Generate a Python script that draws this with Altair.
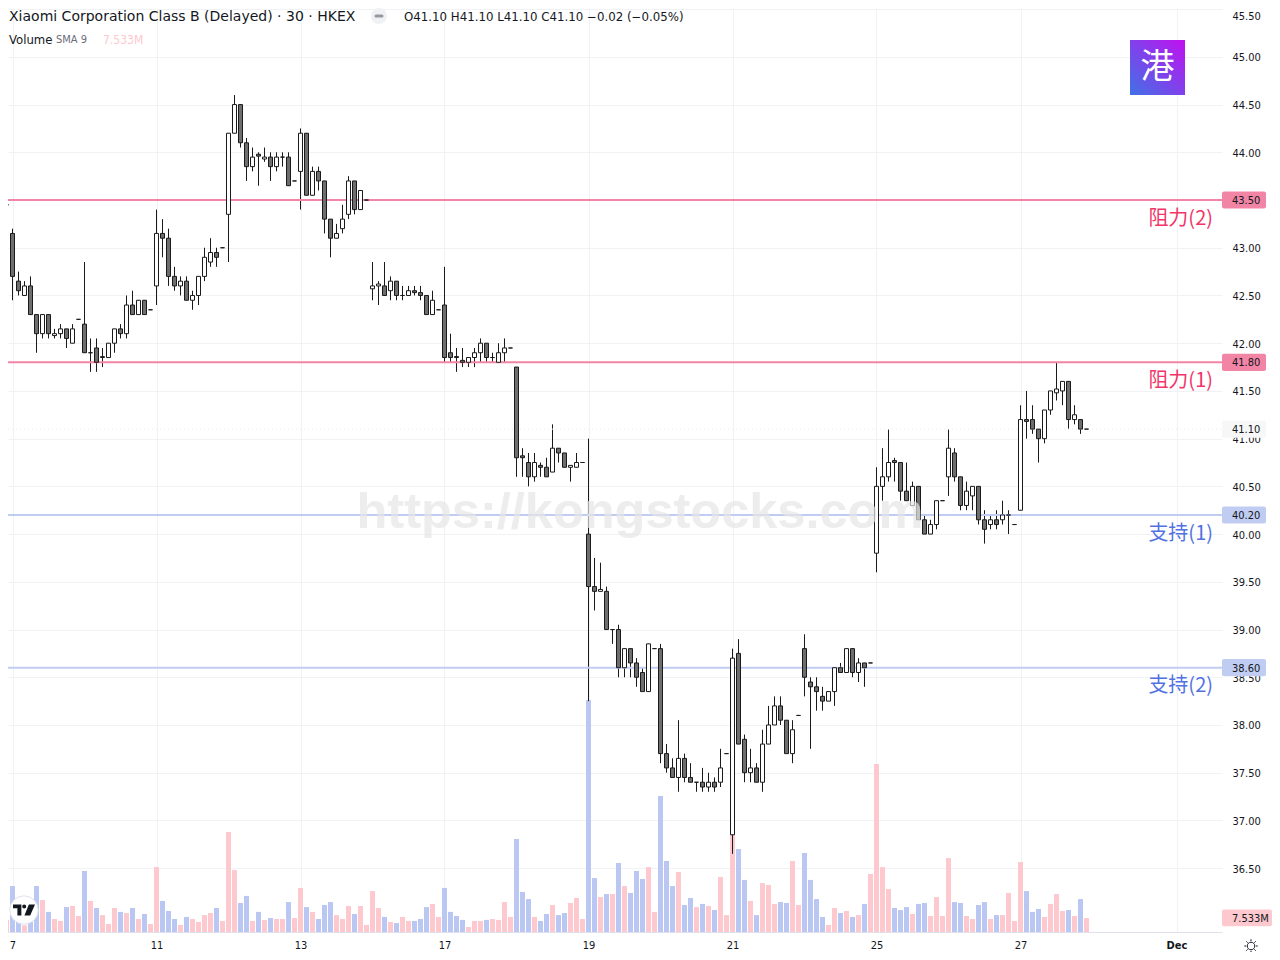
import altair as alt
import pandas as pd

OPEN = [43.45,43.45,43.15,42.65,42.5,42.6,42.3,42.1,42.3,42.08,42.1,42.15,42.0,42.25,42.2,41.9,41.95,41.86,41.85,42.0,42.15,42.1,42.4,42.3,42.45,42.35,42.6,43.15,43.1,42.7,42.6,42.65,42.45,42.5,42.7,42.85,42.95,43.0,43.35,44.2,44.5,44.1,43.85,43.98,43.93,43.95,43.85,43.95,43.95,43.7,43.8,44.2,43.55,43.8,43.7,43.3,43.1,43.2,43.35,43.7,43.4,43.5,42.57,42.6,42.6,42.55,42.65,42.5,42.5,42.55,42.53,42.5,42.3,42.35,42.4,41.9,41.86,41.82,41.8,41.85,41.9,42.0,41.85,41.8,41.9,41.95,41.75,40.82,40.75,40.6,40.72,40.7,40.65,40.9,40.85,40.7,40.7,40.75,40.0,39.45,39.4,39.4,39.0,39.0,38.6,38.8,38.65,38.55,38.35,38.8,38.8,37.7,37.55,37.45,37.65,37.45,37.4,37.4,37.35,37.4,37.4,37.7,36.85,38.75,37.85,37.5,37.55,37.4,37.8,38.0,38.2,38.05,37.7,38.1,38.8,38.45,38.4,38.3,38.25,38.35,38.6,38.55,38.8,38.55,38.65,38.65,39.8,40.5,40.6,40.77,40.75,40.45,40.3,40.5,40.15,40.0,40.1,40.35,40.6,40.85,40.6,40.3,40.4,40.5,40.15,40.1,40.15,40.15,40.2,40.1,40.25,41.2,41.2,41.1,41.0,41.3,41.48,41.5,41.6,41.2,41.2,41.1]
HIGH = [43.6,43.45,43.2,42.75,42.65,42.7,42.3,42.3,42.3,42.15,42.2,42.15,42.2,42.25,42.85,42.05,42.05,41.95,42.0,42.15,42.2,42.5,42.55,42.45,42.45,42.35,43.4,43.3,43.2,42.8,42.7,42.7,42.55,42.7,43.0,43.1,43.0,43.0,44.2,44.6,44.5,44.15,44.05,44.0,44.05,44.0,44.0,44.0,44.0,43.7,44.25,44.2,43.85,43.85,43.7,43.3,43.25,43.45,43.75,43.7,43.6,43.5,42.85,42.65,42.85,42.7,42.65,42.6,42.6,42.6,42.6,42.5,42.55,42.35,42.8,42.1,41.95,41.95,41.85,41.95,42.05,42.0,41.9,42.0,42.05,41.95,41.75,40.9,40.85,40.85,40.75,40.8,41.15,40.9,40.85,40.72,40.85,40.75,41.0,39.75,39.7,39.45,39.0,39.05,38.8,38.8,38.7,38.6,38.85,38.8,38.85,37.8,37.65,38.05,37.7,37.6,37.4,37.55,37.5,37.45,37.75,37.7,38.8,38.9,37.9,37.75,37.6,37.95,38.2,38.3,38.3,38.05,38.05,38.1,38.95,38.5,38.5,38.4,38.35,38.6,38.65,38.8,38.8,38.7,38.65,38.65,40.7,40.9,41.1,40.8,40.75,40.75,40.55,40.5,40.2,40.15,40.35,40.35,41.1,40.9,40.6,40.55,40.5,40.5,40.25,40.2,40.25,40.35,40.25,40.1,41.35,41.5,41.35,41.1,41.3,41.5,41.8,41.6,41.6,41.35,41.2,41.1]
LOW = [43.4,43.45,42.45,42.5,42.5,42.3,41.9,42.05,42.05,42.05,42.05,41.95,42.0,42.25,41.9,41.7,41.7,41.75,41.85,41.9,42.05,42.05,42.3,42.3,42.3,42.35,42.4,42.9,42.6,42.55,42.5,42.45,42.35,42.4,42.65,42.8,42.8,43.0,42.85,44.2,44.05,43.7,43.8,43.65,43.9,43.7,43.8,43.85,43.65,43.7,43.4,43.55,43.55,43.6,43.15,42.9,43.1,43.15,43.3,43.35,43.4,43.5,42.45,42.4,42.5,42.45,42.45,42.45,42.5,42.5,42.45,42.3,42.3,42.35,41.8,41.8,41.7,41.75,41.75,41.75,41.8,41.8,41.8,41.8,41.8,41.95,40.6,40.6,40.5,40.55,40.6,40.6,40.65,40.75,40.7,40.55,40.7,40.75,38.25,39.2,39.4,39.0,38.85,38.5,38.5,38.5,38.4,38.35,38.35,38.8,37.6,37.5,37.45,37.3,37.4,37.4,37.3,37.3,37.3,37.3,37.35,37.7,36.65,37.8,37.4,37.4,37.4,37.3,37.8,38.0,38.0,37.7,37.6,38.1,38.3,37.75,38.15,38.15,38.25,38.2,38.55,38.55,38.5,38.45,38.4,38.65,39.6,40.35,40.55,40.55,40.35,40.35,40.3,40.15,40.0,40.0,40.05,40.35,40.4,40.55,40.25,40.25,40.25,40.1,39.9,40.05,40.05,40.1,40.0,40.1,40.25,41.0,41.05,40.75,40.95,41.25,41.4,41.35,41.1,41.15,41.05,41.1]
CLOSE = [43.4,43.45,42.7,42.55,42.6,42.3,42.1,42.3,42.1,42.1,42.15,42.05,42.15,42.25,41.9,41.9,41.8,41.85,42.0,42.15,42.1,42.4,42.3,42.45,42.3,42.35,43.15,43.1,42.7,42.6,42.65,42.45,42.5,42.7,42.9,42.95,42.9,43.0,44.2,44.5,44.1,43.85,43.95,43.96,43.95,43.85,43.95,43.95,43.65,43.7,44.2,43.55,43.8,43.7,43.3,43.1,43.15,43.3,43.7,43.4,43.6,43.5,42.6,42.62,42.5,42.65,42.5,42.5,42.55,42.53,42.5,42.3,42.45,42.35,41.85,41.85,41.85,41.8,41.85,41.9,42.0,41.85,41.85,41.9,41.95,41.95,40.8,40.8,40.6,40.75,40.7,40.6,40.9,40.85,40.7,40.72,40.75,40.75,39.45,39.4,39.42,39.0,39.0,38.6,38.8,38.65,38.5,38.35,38.85,38.8,37.7,37.55,37.45,37.65,37.45,37.4,37.4,37.35,37.4,37.35,37.55,37.7,38.7,37.8,37.5,37.55,37.4,37.8,38.0,38.2,38.05,37.7,37.95,38.1,38.5,38.4,38.35,38.25,38.35,38.6,38.55,38.8,38.55,38.65,38.6,38.65,40.5,40.6,40.75,40.75,40.45,40.35,40.5,40.15,40.0,40.1,40.35,40.35,40.9,40.6,40.3,40.45,40.5,40.15,40.05,40.15,40.1,40.2,40.2,40.1,41.2,41.18,41.1,41.0,41.3,41.5,41.52,41.6,41.2,41.25,41.1,41.1]
VOLUME_M = [12.9,6.5,24.7,7.2,3.6,5.4,24.7,17.2,10.8,7.0,5.9,13.4,14.0,8.6,32.8,16.7,12.9,9.1,4.3,12.9,10.8,10.2,12.9,7.0,9.7,4.3,34.9,16.7,11.3,7.0,3.8,8.1,7.0,5.4,9.1,10.2,12.9,5.9,53.8,33.3,15.6,19.4,5.9,10.8,6.5,7.5,7.0,7.0,16.1,7.5,23.7,13.4,10.8,7.0,14.5,16.1,9.1,7.0,14.0,9.7,14.0,3.8,22.0,12.9,8.1,5.4,4.8,8.1,5.9,5.9,7.0,13.4,15.1,8.1,23.7,10.8,8.6,6.5,2.7,5.9,5.9,6.5,7.0,6.5,16.1,8.1,50.0,21.5,17.7,8.1,5.9,9.7,14.5,9.1,10.2,15.6,18.3,7.0,124.7,29.0,18.8,20.4,20.4,37.1,24.7,21.0,32.8,28.5,34.9,10.8,73.1,38.2,24.7,32.3,14.5,18.3,13.4,15.1,14.0,11.8,29.6,9.1,52.1,44.6,28.0,16.7,9.1,26.3,25.3,15.1,16.1,15.6,38.2,14.5,42.5,28.0,17.7,8.1,3.8,12.9,10.2,11.3,8.1,9.1,15.1,31.2,90.3,34.9,23.1,12.9,11.8,13.4,9.7,15.1,15.6,8.6,18.8,8.6,39.8,16.1,15.6,8.6,7.0,14.5,16.1,7.0,9.1,9.1,21.0,5.9,37.6,22.0,10.8,12.4,8.1,15.1,20.4,11.3,11.8,8.6,17.7,7.5]
DIRECTION = list("DUDDUDDUDU" "UDUUDUDUUU" "DUDUDUUDDD" "UDUUUUDUUU" "DDUDUDUUDU"
                 "UDUDDDUUUD" "UUUUDUDUUD" "DDUUDDDDUU" "UDUUUUDDDU" "DDUDDUUUDD"
                 "UDUDUDDDUU" "DDDUDDUDUD" "UUUDDUDUUU" "DDUUDDDDUU" "DUDUDUUUUD"
                 "DDUDDUUUUD" "DUUDDUDUUU" "UDDDUUUUDU" "DU")

HLINE_PRICES = [43.5, 41.8, 40.2, 38.6]
HLINE_NAMES = ["阻力(2)", "阻力(1)", "支持(1)", "支持(2)"]
HLINE_KIND = ["r", "r", "s", "s"]
PRICE_TICKS = [36.5,37,37.5,38,38.5,39,39.5,40,40.5,41,41.5,42,42.5,43,43.5,44,44.5,45,45.5]
TIME_POS = [2,26,50,74,98,122,146,170,196]
TIME_LABELS = ["7","11","13","17","19","21","25","27","Dec"]
LAST_PRICE = 41.1
LAST_VOL = 7.533

INK = "#131722"
COND = "DejaVu Sans Condensed"
W, H = 1214, 924

df = pd.DataFrame({"i": range(len(OPEN)), "open": OPEN, "high": HIGH, "low": LOW, "close": CLOSE,
                   "vol": VOLUME_M, "dir": DIRECTION[:len(OPEN)]})
df["body"] = df["dir"].map({"U": "#ffffff", "D": "#6e6e6e"})
df["vcol"] = df["dir"].map({"U": "#fdc9ce", "D": "#b9c7f2"})

xs = alt.Scale(domain=[1.25, 1.25 + W / 6], nice=False, zero=False, padding=0)
ys = alt.Scale(domain=[35.831, 45.512], nice=False, zero=False)
vs = alt.Scale(domain=[0, 496.8], nice=False, zero=False)
one = alt.Data(values=[{"a": 1}])

hl = pd.DataFrame({"p": HLINE_PRICES, "name": HLINE_NAMES, "kind": HLINE_KIND})
hl["line"] = hl["kind"].map({"r": "#f285a5", "s": "#c1ccf2"})
hl["ink"] = hl["kind"].map({"r": "#f23568", "s": "#5272e2"})
hl["top"] = hl["p"] + 0.09
hl["bot"] = hl["p"] - 0.09

XA = alt.Axis(
    values=TIME_POS, grid=True, gridColor="#f0f2f6", gridWidth=1, ticks=False,
    domainColor="#dfe2ea", domainWidth=1, labelPadding=7, labelFontSize=11, labelFont=COND,
    labelColor=INK, labelFlush=False, labelOverlap=False, title=None,
    labelFontWeight={"condition": {"test": "datum.value==196", "value": "bold"}, "value": "normal"},
    labelExpr="[" + ",".join(f"'{t}'" for t in TIME_LABELS) + "][indexof([" +
              ",".join(str(t) for t in TIME_POS) + "],datum.value)]")
YA = alt.Axis(
    orient="right", values=PRICE_TICKS, format=".2f", grid=True, gridColor="#f0f2f6", gridWidth=1,
    ticks=False, domain=False, labelPadding=10, labelFontSize=11, labelFont=COND, labelColor=INK,
    labelFlush=False, labelOverlap=False, title=None, labelOffset=1,
    labelBaseline={"condition": {"test": "datum.value==45.5", "value": "top"}, "value": "middle"})
X = alt.X("i:Q", scale=xs, axis=XA, title=None)


def py(field):
    return alt.Y(field, scale=ys, axis=YA, title=None)


def txt(text, x, y, size=11, color=INK, font=COND, align="left", **kw):
    return alt.Chart(one).mark_text(text=text, align=align, baseline="middle", font=font,
                                    fontSize=size, color=color, **kw).encode(
        x=alt.value(x), y=alt.value(y))


# volume panel with the time axis
vol = alt.Chart(df).mark_bar(size=5, orient="vertical").encode(
    x=X, y=alt.Y("vol:Q", scale=vs, axis=None), color=alt.Color("vcol:N", scale=None))
vbox = alt.Chart(pd.DataFrame({"a": [LAST_VOL + 4.5], "b": [LAST_VOL - 4.5]})).mark_rect(
    color="#fdc9ce", cornerRadius=2).encode(
    x=alt.value(1214), x2=alt.value(1264), y=alt.Y("a:Q", scale=vs, axis=None), y2="b:Q")
vtext = alt.Chart(pd.DataFrame({"a": [LAST_VOL], "t": ["7.533M"]})).mark_text(
    align="left", baseline="middle", dy=1, font=COND, fontSize=11, color=INK).encode(
    x=alt.value(1224), y=alt.Y("a:Q", scale=vs, axis=None), text="t:N")
vol_group = alt.layer(vol, vbox, vtext)

# price panel
wick = alt.Chart(df).mark_rule(color="#1a1a1a", strokeWidth=1).encode(x=X, y=py("high:Q"), y2="low:Q")
body = alt.Chart(df).mark_bar(size=4, stroke="#1a1a1a", strokeWidth=1, orient="vertical").encode(
    x=X, y=py("open:Q"), y2="close:Q", color=alt.Color("body:N", scale=None))
hline = alt.Chart(hl).mark_rule(strokeWidth=2).encode(
    x=alt.value(0), x2=alt.value(W), y=py("p:Q"), color=alt.Color("line:N", scale=None))
last = alt.Chart(pd.DataFrame({"p": [LAST_PRICE]})).mark_rule(color="#e9eaee", strokeWidth=1, strokeDash=[1, 3]).encode(
    x=alt.value(0), x2=alt.value(W), y=py("p:Q"))
names = alt.Chart(hl).mark_text(align="right", baseline="middle", dy=18.5, fontSize=20,
                                font="Noto Sans CJK SC").encode(
    x=alt.value(1205), y=py("p:Q"), text="name:N", color=alt.Color("ink:N", scale=None))
boxes = alt.Chart(hl).mark_rect(cornerRadius=2).encode(
    x=alt.value(1214), x2=alt.value(1258), y=py("top:Q"), y2="bot:Q",
    color=alt.Color("line:N", scale=None))
boxtext = alt.Chart(hl).transform_calculate(t="format(datum.p,'.2f')").mark_text(
    align="left", baseline="middle", dy=1, font=COND, fontSize=11, color=INK).encode(
    x=alt.value(1224), y=py("p:Q"), text="t:N")
lastbox = alt.Chart(pd.DataFrame({"a": [LAST_PRICE + 0.09], "b": [LAST_PRICE - 0.09]})).mark_rect(
    color="#f7f7f7", cornerRadius=2).encode(
    x=alt.value(1214), x2=alt.value(1258), y=py("a:Q"), y2="b:Q")
lasttext = alt.Chart(pd.DataFrame({"p": [LAST_PRICE], "t": ["41.10"]})).mark_text(
    align="left", baseline="middle", dy=1, font=COND, fontSize=11, color=INK).encode(
    x=alt.value(1224), y=py("p:Q"), text="t:N")
price_group = alt.layer(wick, last, hline, body, names, boxes, boxtext, lastbox, lasttext)

# decoration
logo_bg = alt.Chart(one).mark_rect(color=alt.Gradient(
    gradient="linear", x1=0, y1=1, x2=1, y2=0,
    stops=[alt.GradientStop(color="#3f72e6", offset=0), alt.GradientStop(color="#c210f0", offset=1)])).encode(
    x=alt.value(1122), x2=alt.value(1177), y=alt.value(32), y2=alt.value(87))
logo_fg = txt("港", 1149.5, 59.5, size=34, color="#ffffff", font="Noto Sans CJK SC", align="center")
watermark = txt("https://kongstocks.com", 348.5, 505, size=50.5, color="#e6e6e6", font="Liberation Sans",
                fontWeight="bold", opacity=0.7)
pill = alt.Chart(one).mark_circle(size=254, color="#eff1f4", opacity=1).encode(x=alt.value(371), y=alt.value(8))
pill_dash = alt.Chart(one).mark_rule(color="#9598a1", strokeWidth=3, strokeCap="round").encode(
    x=alt.value(368), x2=alt.value(374), y=alt.value(8))
tv_bg = alt.Chart(one).mark_circle(size=804, color="#ffffff", opacity=1, stroke="#e0e3eb", strokeWidth=1).encode(
    x=alt.value(16), y=alt.value(902))
TV_PATH = ("M-.5-.25H-.12V.25H-.3V-.08H-.5Z"
           "M-.08-.16A.09.09 0 1 1 .1-.16A.09.09 0 1 1-.08-.16Z"
           "M.22-.25H.5L.28.25H.02Z")
tv = alt.Chart(one).mark_point(shape=TV_PATH, size=1936, filled=True, color="#131722", opacity=1).encode(
    x=alt.value(16), y=alt.value(902))
SUN_PATH = ("M0-.5V-.36M0 .36V.5M-.5 0H-.36M.36 0H.5M-.35-.35L-.25-.25M.25.25L.35.35M-.35.35L-.25.25M.25-.25L.35-.35"
            "M.28 0A.28.28 0 1 1-.28 0A.28.28 0 1 1 .28 0")
sun = alt.Chart(one).mark_point(shape=SUN_PATH, size=720, filled=False, stroke=INK, strokeWidth=1, opacity=1).encode(
    x=alt.value(1243), y=alt.value(938))

header = alt.layer(
    txt("Xiaomi Corporation Class B (Delayed) · 30 · HKEX", 1, 9, size=14, font="DejaVu Sans"),
    txt("O41.10 H41.10 L41.10 C41.10 −0.02 (−0.05%)", 396, 9, size=11.8, font="DejaVu Sans"),
    txt("Volume", 1, 32, size=13),
    txt("SMA 9", 48, 32, size=11, color="#6a6d78"),
    txt("7.533M", 95, 32, size=12, color="#fdc9ce"),
    pill, pill_dash, tv_bg, tv, sun, logo_bg, logo_fg, watermark,
)

chart = alt.layer(vol_group, price_group, header).resolve_scale(y="independent").properties(
    width=W, height=H, padding={"left": 0, "top": 0, "right": 50, "bottom": 20},
    autosize=alt.AutoSizeParams(type="none"), background="#ffffff",
).configure_view(stroke=None)

chart.save("out.html", embed_options={"renderer": "svg", "actions": False})
